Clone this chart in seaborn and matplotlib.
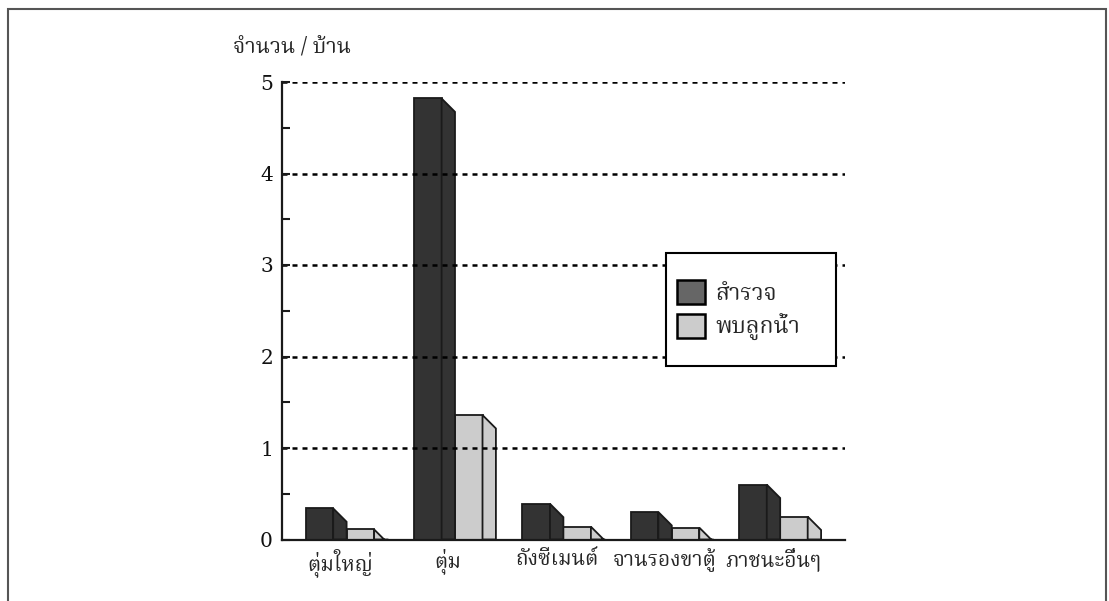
import numpy as np
import pandas as pd
import matplotlib
matplotlib.use("Agg")
import matplotlib.pyplot as plt
import seaborn as sns
from matplotlib import font_manager
from matplotlib.patches import Polygon, Rectangle, Patch
from matplotlib.ticker import MultipleLocator

# Average number of water containers per household, by container type
containers = ["ตุ่มใหญ่", "ตุ่ม", "ถังซีเมนต์", "จานรองขาตู้", "ภาชนะอื่นๆ"]
surveyed = [0.34, 4.82, 0.39, 0.30, 0.60]
with_larvae = [0.11, 1.36, 0.14, 0.13, 0.25]
series_names = ["สำรวจ", "พบลูกน้ำ"]
y_ticks = [0, 1, 2, 3, 4, 5]
y_title = "จำนวน / บ้าน"

BAR_COLORS = ["#333333", "#cccccc"]
KEY_COLORS = ["#666666", "#cccccc"]
EDGE = "#1a1a1a"


def pick_thai_family():
    preferred = ["Noto Serif Thai", "Sarabun", "Norasi", "Kinnari", "Garuda",
                 "Loma", "Noto Sans Thai", "Noto Sans Thai Looped", "Laksaman",
                 "TH Sarabun New", "Tlwg Typo", "Umpush", "Waree", "Sawasdee"]
    names = {f.name for f in font_manager.fontManager.ttflist}
    for name in preferred:
        if name in names:
            return name
    for entry in font_manager.fontManager.ttflist:
        try:
            if 0x0E08 in font_manager.get_font(entry.fname).get_charmap():
                return entry.name
        except Exception:
            continue
    return "DejaVu Sans"


sns.set_theme(style="white")
thai = pick_thai_family()
plt.rcParams["font.family"] = [thai, "DejaVu Sans"]

W, H = 1109, 601
fig = plt.figure(figsize=(W / 100, H / 100), dpi=100)
fig.patch.set_facecolor("white")

# axes box in pixel terms: x 282..845, y 82..539.5 (from top)
ax = fig.add_axes([282 / W, (H - 539.5) / H, (845 - 282) / W, (539.5 - 82) / H])

df = pd.DataFrame({
    "container": containers * 2,
    "value": surveyed + with_larvae,
    "series": [series_names[0]] * len(containers) + [series_names[1]] * len(containers),
})

sns.barplot(data=df, x="container", y="value", hue="series", order=containers,
            hue_order=series_names, palette=BAR_COLORS, saturation=1,
            width=0.755, gap=0.327, edgecolor=EDGE, linewidth=1.3,
            legend=False, ax=ax, zorder=1)

ax.set_xlim(-0.534, 4.66)
ax.set_ylim(0, 5)

# extruded side faces of each bar (45 degree bevel, fixed pixel depth)
depth_px = 13.4
px_per_x = ax.bbox.width / (ax.get_xlim()[1] - ax.get_xlim()[0])
px_per_y = ax.bbox.height / (ax.get_ylim()[1] - ax.get_ylim()[0])
dx, dy = depth_px / px_per_x, depth_px / px_per_y
for container in ax.containers:
    for rect in container:
        xr = rect.get_x() + rect.get_width()
        h = rect.get_height()
        side = Polygon([(xr, h), (xr + dx, h - dy), (xr + dx, 0), (xr, 0)],
                       closed=True, facecolor=rect.get_facecolor(),
                       edgecolor=EDGE, linewidth=1.3, zorder=1)
        ax.add_patch(side)

# axis styling
ax.set_xlabel("")
ax.set_ylabel("")
ax.set_yticks(y_ticks)
ax.set_yticklabels([str(t) for t in y_ticks], fontfamily="DejaVu Serif", fontsize=14.5)
ax.yaxis.set_minor_locator(MultipleLocator(0.5))
ax.tick_params(axis="y", which="both", direction="in", length=6, width=1.5,
               color=EDGE, pad=6.5, left=True, labelcolor="#111111")
ax.tick_params(axis="x", length=0, pad=6, labelsize=15)
for lab in ax.get_xticklabels():
    lab.set_fontfamily([thai, "DejaVu Sans"])
for side_name in ["top", "right"]:
    ax.spines[side_name].set_visible(False)
for side_name in ["left", "bottom"]:
    ax.spines[side_name].set_color(EDGE)
    ax.spines[side_name].set_linewidth(1.6)

ax.set_axisbelow(False)
ax.yaxis.grid(True, which="major", color="black", linewidth=1.8,
              linestyle=(0, (2.0, 2.0)))
ax.xaxis.grid(False)
for gl, t in zip(ax.yaxis.get_gridlines(), ax.get_yticks()):
    if t == 0:
        gl.set_visible(False)

# y-axis title
fig.text(233 / W, 1 - 47 / H, y_title, fontsize=15.5, ha="left", va="center",
         family=[thai, "DejaVu Sans"])

# key box
fig.patches.append(Rectangle((666 / W, 1 - 366 / H), (836 - 666) / W, (366 - 253) / H,
                             transform=fig.transFigure, facecolor="white",
                             edgecolor="black", linewidth=1.5, zorder=5))
handles = [Patch(facecolor=c, edgecolor="black", linewidth=1.8) for c in KEY_COLORS]
fig.legend(handles, series_names, loc="upper left",
           bbox_to_anchor=(674.5 / W, 1 - 277.5 / H), bbox_transform=fig.transFigure,
           frameon=False, handlelength=1.25, handleheight=1.25,
           handletextpad=0.45, labelspacing=0.35, borderpad=0.1, borderaxespad=0,
           prop={"family": [thai, "DejaVu Sans"], "size": 16.5}).set_zorder(6)

# outer frame
fig.patches.append(Rectangle((8 / W, -0.1), (1106 - 8) / W, 1.1 - 9 / H,
                             transform=fig.transFigure, fill=False,
                             edgecolor="#555555", linewidth=1.5, zorder=7))

fig.savefig("out.png", dpi=100, facecolor="white")
